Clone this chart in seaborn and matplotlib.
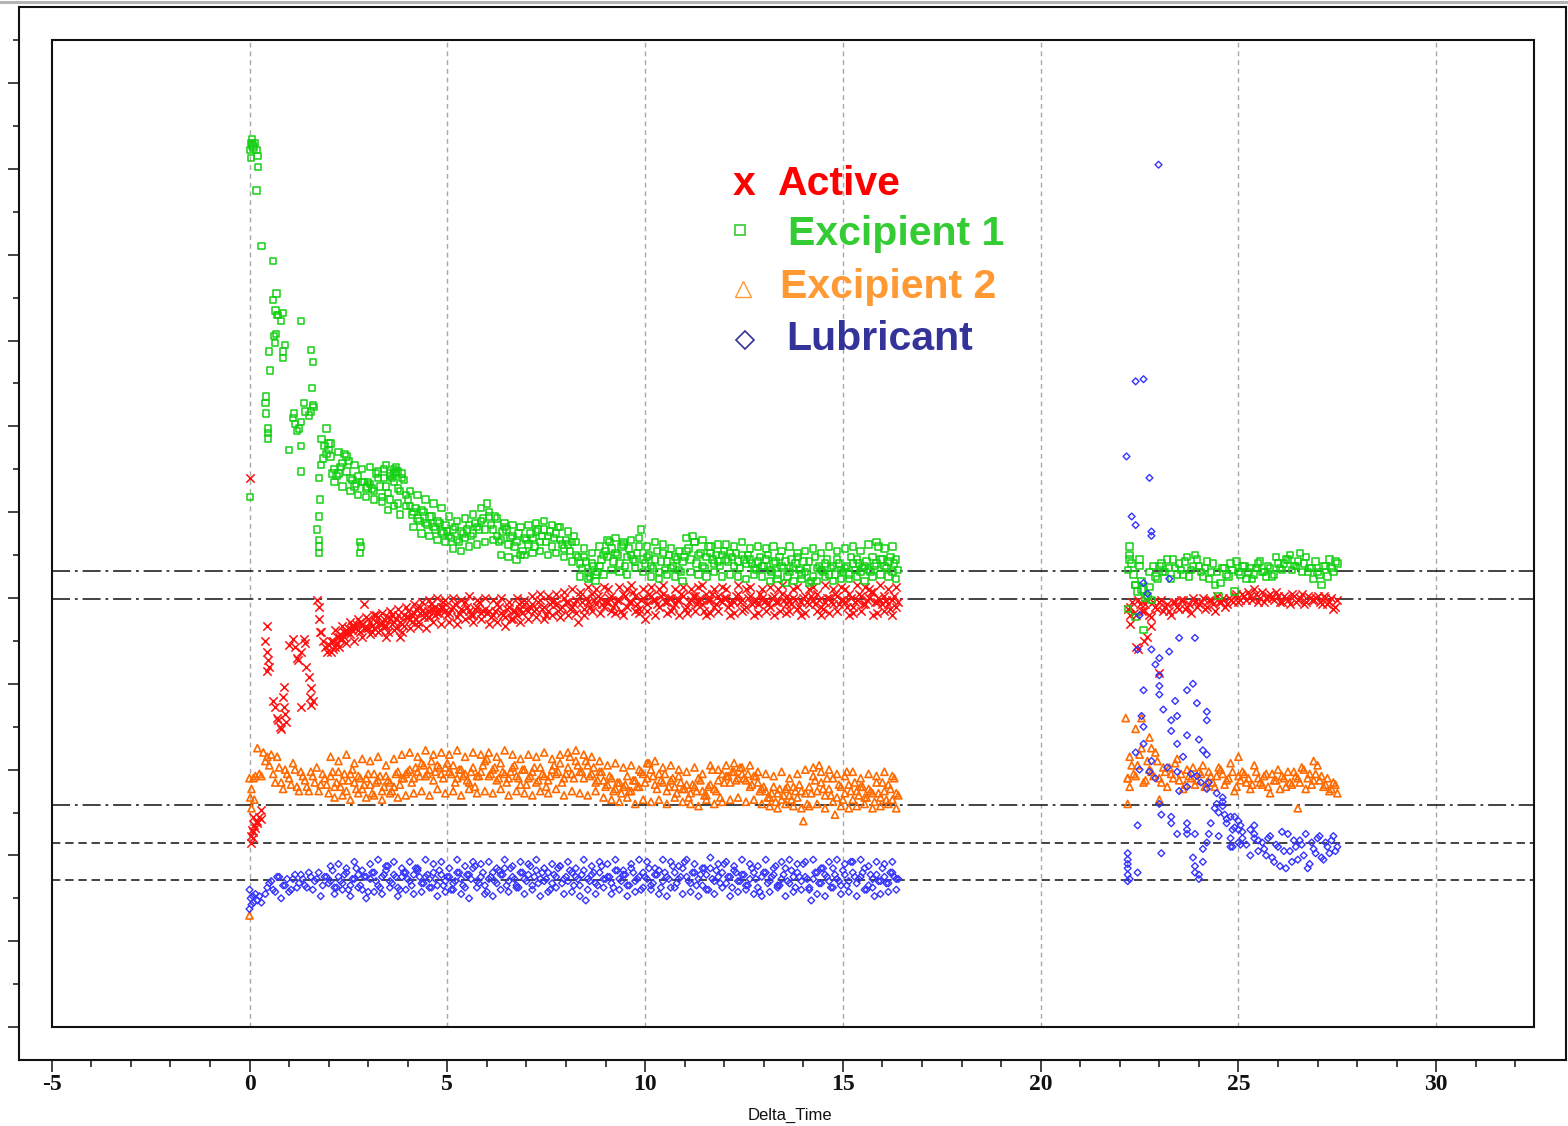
import numpy as np
import pandas as pd
import matplotlib
matplotlib.use("Agg")
import matplotlib.pyplot as plt
from matplotlib.patches import Rectangle
from matplotlib.lines import Line2D
from matplotlib.ticker import FixedLocator, NullFormatter
import seaborn as sns

# ---------------- data ----------------
time_run1 = [0.4, 0.5, 0.6, 0.7, 0.8, 0.9, 1.0, 1.1, 1.2, 1.3,
             1.4, 1.5, 1.6, 1.7, 1.8, 1.9, 2.0, 2.1, 2.2, 2.3,
             2.4, 2.5, 2.6, 2.7, 2.8, 2.9, 3.0, 3.1, 3.2, 3.3,
             3.4, 3.5, 3.6, 3.7, 3.8, 3.9, 4.0, 4.1, 4.2, 4.3,
             4.4, 4.5, 4.6, 4.7, 4.8, 4.9, 5.0, 5.1, 5.2, 5.3,
             5.4, 5.5, 5.6, 5.7, 5.8, 5.9, 6.0, 6.1, 6.2, 6.3,
             6.4, 6.5, 6.6, 6.7, 6.8, 6.9, 7.0, 7.1, 7.2, 7.3,
             7.4, 7.5, 7.6, 7.7, 7.8, 7.9, 8.0, 8.1, 8.2, 8.3,
             8.4, 8.5, 8.6, 8.7, 8.8, 8.9, 9.0, 9.1, 9.2, 9.3,
             9.4, 9.5, 9.6, 9.7, 9.8, 9.9, 10.0, 10.1, 10.2, 10.3,
             10.4, 10.5, 10.6, 10.7, 10.8, 10.9, 11.0, 11.1, 11.2, 11.3,
             11.4, 11.5, 11.6, 11.7, 11.8, 11.9, 12.0, 12.1, 12.2, 12.3,
             12.4, 12.5, 12.6, 12.7, 12.8, 12.9, 13.0, 13.1, 13.2, 13.3,
             13.4, 13.5, 13.6, 13.7, 13.8, 13.9, 14.0, 14.1, 14.2, 14.3,
             14.4, 14.5, 14.6, 14.7, 14.8, 14.9, 15.0, 15.1, 15.2, 15.3,
             15.4, 15.5, 15.6, 15.7, 15.8, 15.9, 16.0, 16.1, 16.2, 16.3,
             16.4]

time_run1b = [2.05, 2.15, 2.25, 2.35, 2.45, 2.55, 2.65, 2.75, 2.85, 2.95,
              3.05, 3.15, 3.25, 3.35, 3.45, 3.55, 3.65, 3.75, 3.85, 3.95,
              4.05, 4.15, 4.25, 4.35, 4.45, 4.55, 4.65, 4.75, 4.85, 4.95,
              5.05, 5.15, 5.25, 5.35, 5.45, 5.55, 5.65, 5.75, 5.85, 5.95,
              6.05, 6.15, 6.25, 6.35, 6.45, 6.55, 6.65, 6.75, 6.85, 6.95,
              7.05, 7.15, 7.25, 7.35, 7.45, 7.55, 7.65, 7.75, 7.85, 7.95,
              8.05, 8.15, 8.25, 8.35, 8.45, 8.55, 8.65, 8.75, 8.85, 8.95,
              9.05, 9.15, 9.25, 9.35, 9.45, 9.55, 9.65, 9.75, 9.85, 9.95,
              10.05, 10.15, 10.25, 10.35, 10.45, 10.55, 10.65, 10.75, 10.85, 10.95,
              11.05, 11.15, 11.25, 11.35, 11.45, 11.55, 11.65, 11.75, 11.85, 11.95,
              12.05, 12.15, 12.25, 12.35, 12.45, 12.55, 12.65, 12.75, 12.85, 12.95,
              13.05, 13.15, 13.25, 13.35, 13.45, 13.55, 13.65, 13.75, 13.85, 13.95,
              14.05, 14.15, 14.25, 14.35, 14.45, 14.55, 14.65, 14.75, 14.85, 14.95,
              15.05, 15.15, 15.25, 15.35, 15.45, 15.55, 15.65, 15.75, 15.85, 15.95,
              16.05, 16.15, 16.25, 16.35]

time_run2 = [22.2, 22.3, 22.4, 22.5, 22.6, 22.7, 22.8, 22.9, 23.0, 23.1,
             23.2, 23.3, 23.4, 23.5, 23.6, 23.7, 23.8, 23.9, 24.0, 24.1,
             24.2, 24.3, 24.4, 24.5, 24.6, 24.7, 24.8, 24.9, 25.0, 25.1,
             25.2, 25.3, 25.4, 25.5, 25.6, 25.7, 25.8, 25.9, 26.0, 26.1,
             26.2, 26.3, 26.4, 26.5, 26.6, 26.7, 26.8, 26.9, 27.0, 27.1,
             27.2, 27.3, 27.4, 27.5]

time_run2b = [22.25, 22.35, 22.45, 22.55, 22.65, 22.75, 22.85, 22.95, 23.05, 23.15,
              23.25, 23.35, 23.45, 23.55, 23.65, 23.75, 23.85, 23.95, 24.05, 24.15,
              24.25, 24.35, 24.45, 24.55, 24.65, 24.75, 24.85, 24.95, 25.05, 25.15,
              25.25, 25.35, 25.45, 25.55, 25.65, 25.75, 25.85, 25.95, 26.05, 26.15,
              26.25, 26.35, 26.45, 26.55, 26.65, 26.75, 26.85, 26.95, 27.05, 27.15,
              27.25, 27.35, 27.45]

active_run1 = [9.0, 8.4, 7.6, 7.2, 6.95, 7.3,
               8.9, 9.05, 8.6, 7.45, 8.95, 8.15, 7.6, 9.95, 9.2, 8.85,
               8.9, 9.0, 8.95, 9.15, 9.1, 9.2, 9.25, 9.3, 9.2, 9.85,
               9.3, 9.35, 9.45, 9.4, 9.5, 9.55, 9.4, 9.3, 9.1, 9.6,
               9.55, 9.45, 9.75, 9.65, 9.55, 9.7, 9.85, 9.6, 9.75, 9.9,
               9.6,
               9.75, 9.85, 9.65, 9.7, 9.8, 9.6, 9.75, 9.9, 9.7, 9.65,
               9.55, 9.7, 9.8, 9.6, 9.75, 9.5, 9.7, 9.85, 9.65, 9.75,
               9.8, 9.7, 9.9, 9.75, 9.6, 9.85, 9.95, 9.7, 9.8, 9.9,
               9.75, 9.85, 9.45, 9.9, 10.0, 9.8, 9.95, 10.05, 9.85, 9.9,
               10.0, 9.8, 9.95, 9.7, 10.05, 9.9, 10.15, 9.85, 9.95, 9.5,
               10.1, 9.95, 9.85, 10.05, 9.9, 10.0, 9.8, 9.95, 10.1, 9.75,
               9.9, 10.05, 9.85, 10.0, 9.7, 9.95, 10.1, 9.85, 9.95, 10.0,
               9.8, 9.95, 10.05, 9.9, 9.75, 10.0, 9.85, 9.95, 10.1, 9.9,
               9.85, 10.0, 9.9, 9.7, 9.95, 10.05, 9.85, 9.95, 9.8, 10.0,
               9.9, 10.05, 9.85, 9.95, 9.75, 10.0, 9.9, 10.1, 9.85, 9.95,
               9.8, 10.0, 9.9, 10.1, 9.85, 9.95, 10.15, 9.9, 10.0, 9.85,
               9.95, 9.75, 10.05, 9.9]

active_run1b = [9.0, 8.85, 9.1, 9.05, 9.2, 9.15, 9.35, 9.25, 9.4, 9.3,
                9.45, 9.3, 9.55, 9.4, 9.35, 9.5, 9.45, 9.6, 9.4, 9.55,
                9.5, 9.65, 9.45, 9.7, 9.6, 9.55, 9.75, 9.65, 9.8, 9.7,
                9.65, 9.8, 9.55, 9.75, 9.9, 9.7, 9.6, 9.8, 9.65, 9.75,
                9.7, 9.6, 9.85, 9.65, 9.55, 9.8, 9.7, 9.6, 9.75, 9.85,
                9.7, 9.85, 9.75, 9.95, 9.8, 9.7, 9.9, 9.85, 9.75, 10.0,
                9.9, 9.8, 9.95, 10.05, 9.75, 9.9, 10.1, 9.85, 10.0, 9.8,
                9.9, 10.05, 9.85, 9.95, 10.1, 9.8, 9.9, 10.05, 9.75, 10.0,
                9.85, 10.05, 9.95, 9.8, 10.1, 9.9, 10.0, 9.85, 9.95, 10.05,
                9.8, 9.95, 10.05, 9.9, 9.85, 10.1, 9.95, 9.8, 10.05, 9.9,
                10.0, 9.85, 9.9, 10.1, 9.95, 9.8, 10.05, 9.9, 9.85, 10.0,
                9.95, 9.8, 10.05, 9.9, 10.1, 9.85, 9.95, 10.0, 9.75, 9.9,
                10.05, 9.85, 9.95, 10.1, 9.8, 9.9, 10.0, 9.85, 10.05, 9.95,
                9.9, 10.1, 9.8, 9.95, 10.05, 9.85, 10.0, 10.15, 9.9, 9.95,
                10.05, 9.85, 9.95, 9.8]

active_run1c = [8.75, 9.25, 8.85, 9.35, 8.95, 9.45, 9.0, 9.5, 9.1, 9.55,
                9.15, 9.6, 9.2, 9.65, 9.1, 9.7, 9.25, 9.75, 9.2, 9.8,
                9.3, 9.85, 9.35, 9.9, 9.3, 9.95, 9.45, 10.0, 9.4, 9.95,
                9.45, 10.0, 9.4, 9.95, 9.5, 10.05, 9.45, 9.95, 9.5, 10.0,
                9.4, 9.95, 9.45, 10.0, 9.35, 9.9, 9.5, 10.0, 9.45, 9.95,
                9.5, 10.05, 9.55, 10.1, 9.5, 10.05, 9.6, 10.1, 9.55, 10.15,
                9.6, 10.2, 9.65, 10.15, 9.6, 10.25, 9.7, 10.2, 9.65, 10.25,
                10.2, 9.7, 9.65, 10.25, 9.6, 10.2, 10.3, 9.7, 9.65, 10.2,
                9.7, 10.25, 9.6, 10.2, 10.3, 9.65, 9.7, 10.2, 9.6, 10.25,
                9.65, 10.2, 9.7, 10.25, 10.3, 9.6, 9.65, 10.2, 9.7, 10.25,
                10.2, 9.6, 9.65, 10.3, 9.7, 10.2, 10.25, 9.6, 9.65, 10.2,
                9.7, 10.25, 9.6, 10.2, 10.3, 9.65, 9.7, 10.2, 10.25, 9.6,
                9.65, 10.2, 10.25, 9.7, 9.6, 10.3, 9.65, 10.2, 9.7, 10.25,
                10.2, 9.6, 9.65, 10.3, 9.7, 10.25, 10.2, 9.6, 9.65, 10.3,
                9.7, 10.2, 9.6, 10.25]

active_run2 = [9.75, 9.9, 9.6, 9.85, 9.7, 9.95, 9.55, 9.8, 9.9, 9.7,
               9.85, 9.6, 9.9, 9.75, 9.95, 9.8, 9.65, 9.9, 9.85, 10.0,
               9.8, 9.95, 9.7, 9.9, 10.0, 9.85, 9.95, 10.05, 9.9, 10.1,
               9.95, 10.05, 10.2, 9.9, 10.15, 10.0, 10.1, 9.95, 10.05, 9.9,
               10.0, 9.85, 10.05, 9.95, 10.1, 9.9, 10.0, 9.95, 10.05, 9.85,
               10.0, 9.9, 9.75, 9.95]

active_run2b = [9.8, 9.65, 9.95, 9.7, 9.85, 9.6, 9.9, 9.75, 9.95, 9.8,
                9.7, 9.9, 9.8, 9.95, 9.75, 9.85, 10.0, 9.8, 9.9, 9.75,
                9.95, 9.85, 10.05, 9.9, 9.8, 10.0, 9.9, 10.1, 9.95, 10.05,
                10.15, 9.95, 10.1, 10.0, 9.9, 10.05, 10.0, 10.15, 9.9, 10.05,
                9.95, 10.1, 9.9, 10.0, 9.85, 10.05, 9.95, 10.0, 9.9, 10.05,
                9.85, 10.0, 9.8]

active_extra = [(0.02, 12.8), (0.03, 4.45), (0.06, 4.6), (0.08, 4.4), (0.1, 4.55),
                (0.12, 4.7), (0.15, 4.65), (0.18, 4.8), (0.2, 4.75), (0.25, 4.9),
                (0.3, 4.85), (0.1, 4.9), (0.28, 5.05), (0.05, 4.3),
                (0.45, 9.35), (0.44, 8.75), (0.47, 8.55), (0.45, 8.3),
                (0.65, 7.45), (0.72, 7.15), (0.78, 7.0), (0.86, 7.92), (0.85, 7.7),
                (0.88, 7.45), (0.92, 7.1),
                (1.15, 8.85), (1.22, 8.55), (1.3, 8.75), (1.38, 9.05), (1.42, 8.4),
                (1.55, 7.9), (1.53, 7.7), (1.55, 7.5),
                (1.75, 9.8), (1.76, 9.5), (1.78, 9.2), (1.85, 9.0), (1.95, 8.75),
                (2.1, 8.8), (2.2, 9.1), (2.3, 9.05), (2.4, 9.2), (2.5, 9.3),
                (2.6, 9.35), (2.7, 9.4), (2.8, 9.45), (2.9, 9.3), (3.0, 9.5),
                (3.1, 9.2), (3.2, 9.6), (3.3, 9.25), (3.4, 9.35), (3.5, 9.2),
                (3.6, 9.6), (3.7, 9.5), (3.8, 9.45), (3.9, 9.35), (4.0, 9.7),
                (4.1, 9.6), (4.2, 9.5), (4.3, 9.8), (4.4, 9.65), (4.5, 9.55),
                (4.6, 9.75), (4.7, 9.8), (4.8, 9.65), (4.9, 9.8),
                (22.25, 9.4), (22.4, 8.85), (22.8, 9.35), (22.6, 9.0), (22.7, 9.1),
                (23.0, 8.25), (22.45, 8.8), (22.25, 9.6)]

excip1_run1 = [14.55, 15.75, 16.95, 16.6, 16.45, 15.9,
               13.45, 14.2, 13.9, 16.45, 14.35, 14.25, 15.5, 11.6, 13.1, 13.55,
               13.45, 12.9, 12.85, 13.05, 13.35, 13.2, 12.75, 12.65, 11.3, 12.7,
               12.7, 12.55, 12.9, 12.6, 13.0, 12.45, 12.8, 12.95, 12.5, 12.75,
               12.3, 11.95, 12.1, 11.8, 12.0, 11.7, 11.9, 11.6, 11.75, 11.5,
               11.55, 11.4, 11.65, 11.3, 11.5, 11.6, 11.45, 11.75, 11.6, 11.85,
               12.2, 11.7, 11.9, 11.3, 11.55, 11.6, 11.4, 11.2, 11.5, 11.1,
               11.35, 11.5, 11.2, 11.6, 11.45, 11.3, 11.55, 11.4, 11.65, 11.25,
               11.35, 11.1, 11.45, 10.95, 10.7, 10.85, 10.5, 10.75, 10.6, 10.9,
               11.1, 11.3, 10.85, 11.0, 11.2, 10.75, 11.15, 10.9, 11.05, 11.6,
               10.8, 11.0, 10.7, 11.1, 10.85, 10.65, 11.0, 10.75, 10.9, 10.6,
               10.95, 11.15, 11.45, 10.8, 11.05, 10.7, 11.2, 10.9, 11.0, 10.75,
               11.1, 10.85, 10.95, 11.05, 10.7, 10.9, 11.0, 10.8, 10.65, 10.95,
               10.75, 11.0, 10.6, 10.85, 10.95, 10.7, 10.5, 10.9, 10.8, 10.65,
               10.85, 10.7, 10.4, 10.95, 10.75, 10.6, 10.9, 10.7, 10.55, 10.8,
               10.6, 10.75, 10.95, 10.65, 10.8, 10.7, 10.85, 10.6, 10.75, 11.2,
               10.9, 10.7, 10.95, 10.8, 10.65]

excip1_run1b = [13.3, 13.0, 12.9, 13.15, 12.95, 12.8, 12.6, 12.85, 12.7, 12.55,
                12.65, 12.5, 12.8, 12.35, 12.6, 12.9, 12.7, 12.55, 12.8, 12.4,
                12.15, 12.0, 11.85, 12.05, 11.75, 11.9, 11.65, 11.8, 11.55, 11.7,
                11.45, 11.6, 11.35, 11.55, 11.4, 11.7, 11.5, 11.65, 11.8, 11.6,
                11.9, 11.6, 11.45, 11.35, 11.65, 11.25, 11.45, 11.3, 11.0, 11.4,
                11.25, 11.4, 11.55, 11.3, 11.6, 11.45, 11.2, 11.5, 11.35, 11.15,
                11.25, 11.3, 11.0, 10.8, 10.95, 10.6, 10.8, 10.55, 10.75, 11.0,
                10.95, 11.15, 11.05, 10.8, 11.25, 10.95, 11.0, 10.85, 11.2, 10.9,
                10.95, 10.75, 10.9, 10.6, 11.05, 10.85, 10.7, 10.95, 10.65, 10.85,
                11.1, 10.9, 11.3, 11.0, 10.75, 10.95, 11.05, 10.8, 10.85, 11.0,
                10.9, 11.05, 10.75, 10.85, 11.0, 10.8, 10.9, 10.7, 10.85, 10.75,
                10.9, 10.65, 10.8, 10.55, 10.75, 10.85, 10.6, 10.7, 10.95, 10.55,
                10.6, 10.85, 10.5, 10.7, 10.65, 10.8, 10.55, 10.75, 10.9, 10.65,
                10.7, 10.55, 10.8, 10.9, 10.6, 10.75, 10.65, 10.95, 10.8, 10.9,
                10.75, 10.85, 10.6, 10.9]

excip1_run1c = [13.6, 12.7, 13.4, 12.6, 13.3, 12.5, 13.1, 12.4, 13.0, 12.35,
                13.05, 12.3, 12.95, 12.25, 13.1, 12.3, 13.0, 12.2, 12.9, 12.15,
                12.5, 11.65, 12.4, 11.5, 12.3, 11.45, 12.2, 11.35, 12.1, 11.3,
                11.9, 11.15, 11.8, 11.1, 11.85, 11.2, 11.95, 11.25, 12.1, 11.3,
                12.0, 11.35, 11.85, 11.0, 11.75, 10.95, 11.7, 10.9, 11.65, 11.0,
                11.7, 11.05, 11.75, 11.1, 11.8, 11.0, 11.7, 11.05, 11.65, 10.95,
                11.55, 10.85, 11.3, 10.5, 11.15, 10.45, 11.05, 10.4, 11.2, 10.55,
                11.35, 10.65, 11.4, 10.6, 11.3, 10.55, 11.35, 10.7, 11.4, 10.6,
                11.2, 10.5, 11.3, 10.45, 11.25, 10.55, 11.15, 10.5, 11.1, 10.4,
                11.4, 10.6, 11.3, 10.55, 11.35, 10.5, 11.2, 10.6, 11.25, 10.5,
                11.25, 10.55, 11.2, 10.5, 11.3, 10.45, 11.15, 10.55, 11.2, 10.5,
                11.15, 10.4, 11.2, 10.45, 11.1, 10.35, 11.2, 10.4, 11.05, 10.45,
                11.1, 10.35, 11.15, 10.4, 11.05, 10.5, 11.2, 10.4, 11.1, 10.45,
                11.15, 10.45, 11.2, 10.5, 11.1, 10.4, 11.25, 10.5, 11.3, 10.55,
                11.15, 10.5, 11.2, 10.45]

excip1_run2 = [10.65, 10.8, 10.3, 10.9, 10.2, 10.05, 9.95,
               10.5, 10.75, 10.6, 10.9, 10.45, 10.7, 10.8, 10.55, 10.95, 10.65,
               11.0, 10.75, 10.5, 10.85, 10.6, 10.3, 10.05, 10.7, 10.55, 10.8,
               10.15, 10.6, 10.75, 10.45, 10.7, 10.55, 10.8, 10.6, 10.5, 10.7,
               10.55, 10.8, 10.65, 10.9, 11.0, 10.75, 10.85, 10.6, 10.95, 10.7,
               10.45, 10.6, 10.3, 10.75, 10.9, 10.6, 10.8]

excip1_run2b = [10.9, 10.55, 10.15, 10.4, 10.0, 10.6, 10.75, 10.45, 10.8, 10.6,
                10.7, 10.9, 10.55, 10.65, 10.85, 10.5, 10.75, 10.9, 10.6, 10.7,
                10.45, 10.8, 10.6, 10.35, 10.7, 10.5, 10.65, 10.85, 10.55, 10.75,
                10.6, 10.45, 10.7, 10.85, 10.6, 10.75, 10.5, 10.95, 10.7, 10.8,
                10.9, 10.65, 10.75, 11.05, 10.8, 10.6, 10.7, 10.85, 10.55, 10.75,
                10.5, 10.7, 10.85]

excip1_extra = [(0.02, 20.45), (0.04, 20.6), (0.06, 20.7), (0.08, 20.55), (0.1, 20.5),
                (0.14, 20.6), (0.18, 20.45), (0.2, 20.3), (0.04, 20.25), (0.22, 20.05),
                (0.18, 19.5), (0.02, 12.35), (0.3, 18.2), (0.6, 17.85),
                (0.68, 17.1), (0.66, 16.7), (0.72, 16.6), (0.85, 16.65),
                (0.62, 16.1), (0.67, 16.15), (0.64, 15.95), (0.85, 15.75), (0.85, 15.6),
                (0.52, 15.3), (1.55, 15.78), (1.58, 14.9), (1.6, 14.5), (1.55, 14.35),
                (0.42, 14.7), (0.42, 14.3), (0.47, 13.95), (0.47, 13.85), (0.47, 13.72),
                (1.15, 14.05), (1.3, 14.1), (1.25, 13.95), (1.38, 14.55), (1.12, 14.3),
                (1.3, 13.55), (1.3, 12.95), (1.62, 14.45),
                (1.82, 13.7), (1.95, 13.35), (1.85, 13.25), (1.95, 13.95), (2.0, 13.6),
                (1.75, 12.8), (1.78, 12.3), (1.75, 11.9), (1.75, 11.35), (1.75, 11.2),
                (1.75, 11.05), (2.82, 11.2), (2.8, 11.05), (2.98, 12.6),
                (3.55, 12.85), (3.65, 12.9), (3.75, 12.95), (3.5, 12.05), (3.65, 12.15),
                (3.8, 11.95), (3.4, 12.8), (3.7, 13.05),
                (22.25, 11.2), (22.25, 11.0), (22.5, 10.75), (22.4, 10.3), (22.55, 10.2),
                (22.2, 9.75), (22.4, 9.55), (22.6, 9.25), (22.75, 10.25)]

excip2_run1 = [6.2,
               6.1, 5.9, 6.3, 5.7, 6.0, 5.8, 6.15, 5.6, 5.95, 5.75,
               5.5, 5.85, 6.05, 5.65, 5.8, 5.45, 5.95, 5.7, 5.6, 5.9,
               5.75, 6.0, 5.55, 5.8, 5.65, 5.9, 5.45, 5.7, 5.85, 5.6,
               5.75, 5.5, 5.9, 5.65, 5.8, 5.95, 5.7, 6.05, 5.85, 6.1,
               5.9, 6.2, 5.95, 6.05, 5.8, 6.15, 5.9, 5.7, 6.0, 5.85,
               5.75, 5.95, 5.6, 5.85, 6.1, 6.25, 5.9, 6.05, 5.8, 5.95,
               5.7, 5.95, 6.1, 5.8, 6.0, 5.65, 5.85, 6.05, 5.75, 5.9,
               5.6, 5.85, 6.1, 5.95, 5.7, 5.9, 6.3, 5.8, 6.1, 5.95,
               6.2, 5.85, 6.05, 5.75, 5.95, 5.6, 5.85, 5.5, 5.7, 5.45,
               5.65, 5.5, 5.75, 5.6, 5.95, 5.7, 6.15, 5.85, 5.55, 5.75,
               5.9, 5.6, 5.8, 5.45, 5.7, 5.55, 5.35, 5.65, 5.5, 5.75,
               5.4, 5.6, 6.0, 5.5, 5.35, 5.7, 5.85, 5.95, 5.75, 6.05,
               5.8, 5.9, 5.65, 5.85, 5.5, 5.6, 5.35, 5.45, 5.25, 5.55,
               5.4, 5.6, 5.3, 5.5, 5.65, 4.8, 5.2, 5.45, 5.75, 6.1,
               5.55, 5.8, 5.4, 4.95, 5.65, 5.3, 5.95, 5.5, 5.7, 5.4,
               5.6, 5.35, 5.5, 5.25, 5.45, 5.7, 5.3, 5.55, 5.8, 5.4]

excip2_run1b = [5.85, 5.6, 5.95, 5.75, 5.5, 5.9, 5.7, 5.85, 5.55, 5.8,
                5.65, 5.9, 5.75, 5.5, 5.85, 5.7, 5.6, 5.95, 5.8, 5.9,
                6.0, 5.8, 5.95, 6.15, 5.85, 6.0, 5.75, 6.1, 5.9, 6.05,
                5.95, 6.1, 5.8, 6.0, 5.9, 5.7, 6.05, 5.85, 5.95, 6.2,
                5.85, 6.0, 5.75, 6.15, 5.9, 5.8, 6.05, 5.85, 5.65, 6.0,
                5.8, 5.95, 5.7, 6.05, 5.85, 5.75, 6.0, 5.9, 6.15, 5.8,
                6.05, 5.9, 6.2, 5.95, 5.8, 6.1, 5.9, 5.7, 5.95, 5.75,
                5.65, 5.8, 5.55, 5.7, 5.6, 5.85, 5.5, 5.75, 5.6, 5.9,
                5.8, 6.0, 5.65, 5.9, 5.7, 5.5, 5.75, 5.6, 5.85, 5.55,
                5.65, 5.45, 5.6, 5.8, 5.5, 5.4, 5.65, 5.55, 5.75, 5.9,
                5.85, 5.7, 5.95, 5.8, 5.9, 5.75, 5.6, 5.85, 5.7, 5.55,
                5.5, 5.35, 5.6, 5.45, 5.3, 5.55, 5.4, 5.6, 5.35, 5.5,
                5.45, 5.6, 5.85, 5.5, 5.7, 5.4, 5.55, 5.8, 5.35, 5.6,
                5.45, 5.65, 5.3, 5.5, 5.6, 5.35, 5.55, 5.45, 5.7, 5.35,
                5.5, 5.65, 5.3, 5.45]

excip2_run1c = [6.3, 5.35, 6.2, 5.4, 6.35, 5.3, 6.15, 5.45, 6.25, 5.35,
                6.2, 5.4, 6.3, 5.3, 6.1, 5.45, 6.25, 5.35, 6.35, 5.4,
                6.4, 5.45, 6.3, 5.5, 6.45, 5.4, 6.35, 5.55, 6.4, 5.45,
                6.35, 5.5, 6.45, 5.4, 6.3, 5.55, 6.4, 5.45, 6.35, 5.5,
                6.4, 5.45, 6.3, 5.55, 6.45, 5.4, 6.35, 5.5, 6.25, 5.45,
                6.35, 5.4, 6.3, 5.5, 6.4, 5.45, 6.25, 5.55, 6.35, 5.4,
                6.4, 5.5, 6.45, 5.45, 6.35, 5.4, 6.3, 5.5, 6.2, 5.35,
                6.1, 5.3, 6.15, 5.25, 6.05, 5.35, 6.1, 5.2, 6.0, 5.3,
                6.15, 5.25, 6.2, 5.3, 6.05, 5.2, 6.1, 5.35, 6.0, 5.25,
                5.95, 5.2, 6.05, 5.15, 5.9, 5.3, 6.1, 5.2, 6.0, 5.25,
                6.1, 5.3, 6.15, 5.35, 6.05, 5.25, 6.1, 5.3, 5.95, 5.2,
                5.9, 5.15, 5.85, 5.1, 5.95, 5.2, 5.8, 5.15, 5.9, 5.1,
                6.0, 5.15, 6.05, 5.2, 5.95, 5.1, 6.0, 5.25, 5.9, 5.15,
                5.85, 5.1, 5.95, 5.15, 5.8, 5.2, 5.9, 5.1, 5.85, 5.15,
                5.95, 5.2, 5.85, 5.1]

excip2_run2 = [5.8,
               6.1, 5.85, 6.35, 5.7, 6.2, 5.95, 6.4, 5.8, 6.05, 5.6,
               5.9, 6.15, 5.75, 5.55, 6.0, 5.8, 5.65, 5.95, 6.1, 5.7,
               5.85, 5.6, 6.05, 5.9, 5.75, 6.15, 5.5, 5.85, 5.95, 5.7,
               5.55, 6.1, 5.8, 5.65, 5.9, 5.45, 5.75, 6.0, 5.85, 5.6,
               5.7, 5.95, 5.8, 6.05, 5.55, 5.9, 5.75, 6.1, 5.85, 5.65,
               5.5, 5.7, 5.45]

excip2_run2b = [6.3, 5.9, 6.1, 6.5, 5.75, 6.0, 5.85, 6.2, 5.7, 5.95,
                6.05, 5.8, 6.25, 5.9, 5.65, 5.85, 6.05, 5.75, 5.9, 5.6,
                5.95, 5.7, 5.85, 6.0, 5.65, 5.8, 5.95, 5.6, 5.75, 5.9,
                5.8, 5.65, 5.95, 5.7, 5.85, 5.6, 5.9, 5.75, 5.55, 5.8,
                5.95, 5.65, 5.85, 5.7, 6.0, 5.8, 5.65, 5.9, 5.75, 5.6,
                5.8, 5.55, 5.65]

excip2_extra = [(0.0, 5.8), (0.05, 5.55), (0.1, 5.8), (0.12, 5.3), (0.15, 5.85),
                (0.2, 6.5), (0.25, 5.9), (0.3, 5.85), (0.35, 6.4), (0.0, 2.6),
                (0.05, 5.1), (0.45, 6.3), (0.55, 6.35), (0.02, 5.35),
                (0.65, 5.7), (0.75, 6.05), (0.85, 5.55), (0.95, 5.9), (1.05, 5.65),
                (1.15, 6.0), (1.25, 5.5), (1.35, 5.85), (1.45, 5.6), (1.55, 5.95),
                (1.65, 5.7), (1.75, 5.5), (1.85, 5.9), (1.95, 5.65),
                (22.15, 7.2), (22.4, 6.95), (22.55, 7.2), (22.75, 6.75), (22.8, 6.5),
                (22.2, 5.8), (22.25, 5.6), (22.2, 5.2), (23.0, 5.3), (25.0, 6.3),
                (26.5, 5.1), (26.9, 6.2)]

lubric_run1 = [3.1, 3.35, 3.2, 3.5, 3.0, 3.3, 3.15, 3.45, 3.25, 3.55,
               3.3, 3.6, 3.2, 3.45, 3.05, 3.5, 3.35, 3.65, 3.25, 3.4,
               3.55, 3.2, 3.45, 3.7, 3.3, 3.5, 3.15, 3.6, 3.4, 3.25,
               3.55, 3.75, 3.35, 3.5, 3.2, 3.6, 3.45, 3.3, 3.7, 3.5,
               3.35, 3.55, 3.25, 3.45, 3.65, 3.3, 3.5, 3.2, 3.4, 3.6,
               3.3, 3.55, 3.45, 3.75, 3.35, 3.6, 3.15, 3.5, 3.4, 3.65,
               3.55, 3.3, 3.7, 3.45, 3.25, 3.6, 3.4, 3.75, 3.5, 3.35,
               3.6, 3.45, 3.2, 3.55, 3.7, 3.35, 3.5, 3.65, 3.3, 3.45,
               3.55, 2.95, 3.4, 3.6, 3.3, 3.75, 3.45, 3.5, 3.25, 3.65,
               3.4, 3.55, 3.3, 3.6, 3.45, 3.2, 3.5, 3.7, 3.35, 3.55,
               3.25, 3.6, 3.45, 3.75, 3.35, 3.5, 3.85, 3.4, 3.6, 3.3,
               3.55, 3.7, 3.2, 3.45, 3.65, 3.35, 3.8, 3.5, 3.25, 3.6,
               3.4, 3.55, 3.3, 3.7, 3.45, 3.15, 3.6, 3.35, 3.5, 3.75,
               3.3, 3.55, 3.4, 3.65, 3.25, 3.5, 3.8, 3.45, 2.95, 3.6,
               3.35, 3.7, 3.5, 3.25, 3.55, 3.4, 3.65, 3.3, 3.85, 3.5,
               3.45, 3.6, 3.2, 3.55, 3.05, 3.4, 3.7, 3.35, 3.6, 3.5,
               3.45]

lubric_run1b = [3.4, 3.25, 3.5, 3.35, 3.6, 3.3, 3.45, 3.55, 3.2, 3.5,
                3.45, 3.6, 3.3, 3.5, 3.65, 3.4, 3.55, 3.25, 3.5, 3.6,
                3.4, 3.55, 3.7, 3.35, 3.5, 3.45, 3.6, 3.3, 3.55, 3.4,
                3.5, 3.35, 3.6, 3.45, 3.25, 3.55, 3.7, 3.4, 3.5, 3.3,
                3.45, 3.6, 3.35, 3.55, 3.7, 3.4, 3.5, 3.3, 3.6, 3.45,
                3.55, 3.3, 3.65, 3.45, 3.4, 3.6, 3.35, 3.5, 3.75, 3.45,
                3.4, 3.6, 3.5, 3.3, 3.65, 3.45, 3.55, 3.35, 3.6, 3.45,
                3.5, 3.35, 3.65, 3.45, 3.55, 3.3, 3.7, 3.4, 3.5, 3.6,
                3.45, 3.3, 3.55, 3.65, 3.4, 3.5, 3.25, 3.6, 3.45, 3.7,
                3.5, 3.35, 3.6, 3.45, 3.3, 3.55, 3.7, 3.4, 3.5, 3.6,
                3.35, 3.5, 3.65, 3.4, 3.55, 3.3, 3.45, 3.6, 3.25, 3.5,
                3.6, 3.4, 3.55, 3.3, 3.45, 3.7, 3.35, 3.5, 3.6, 3.4,
                3.5, 3.25, 3.45, 3.6, 3.35, 3.55, 3.4, 3.7, 3.45, 3.3,
                3.55, 3.4, 3.6, 3.35, 3.5, 3.7, 3.3, 3.45, 3.55, 3.4,
                3.5, 3.35, 3.6, 3.45]

lubric_run1c = [3.75, 3.1, 3.8, 3.2, 3.7, 3.05, 3.85, 3.25, 3.65, 3.0,
                3.8, 3.15, 3.9, 3.1, 3.75, 3.25, 3.85, 3.05, 3.7, 3.2,
                3.85, 3.1, 3.65, 3.15, 3.9, 3.25, 3.8, 3.05, 3.85, 3.15,
                3.7, 3.2, 3.9, 3.1, 3.75, 3.0, 3.85, 3.25, 3.8, 3.1,
                3.85, 3.05, 3.7, 3.2, 3.9, 3.15, 3.75, 3.25, 3.85, 3.1,
                3.8, 3.2, 3.9, 3.05, 3.7, 3.15, 3.8, 3.25, 3.75, 3.1,
                3.85, 3.15, 3.7, 3.05, 3.9, 3.2, 3.75, 3.1, 3.85, 3.25,
                3.8, 3.1, 3.9, 3.2, 3.65, 3.05, 3.8, 3.15, 3.9, 3.25,
                3.85, 3.2, 3.7, 3.1, 3.9, 3.05, 3.85, 3.25, 3.75, 3.1,
                3.9, 3.15, 3.8, 3.05, 3.7, 3.2, 3.95, 3.1, 3.8, 3.25,
                3.85, 3.05, 3.75, 3.15, 3.9, 3.2, 3.8, 3.1, 3.75, 3.05,
                3.9, 3.15, 3.7, 3.25, 3.85, 3.05, 3.9, 3.15, 3.8, 3.2,
                3.85, 3.2, 3.9, 3.1, 3.7, 3.05, 3.85, 3.25, 3.9, 3.1,
                3.8, 3.15, 3.85, 3.05, 3.9, 3.2, 3.75, 3.25, 3.85, 3.1,
                3.8, 3.15, 3.85, 3.2]

lubric_run2 = [3.8, 11.9, 6.4, 9.6, 7.0, 10.1, 6.2, 8.45,
               5.2, 7.4, 6.05, 4.9, 7.6, 5.5, 6.3, 4.6, 5.9, 3.6,
               6.7, 4.15, 5.55, 4.75, 5.1, 4.45, 5.25, 4.85, 4.4, 4.65,
               4.3, 4.55, 4.25, 4.0, 4.4, 4.1, 4.3, 4.0, 4.45, 3.85,
               4.2, 4.55, 3.7, 4.1, 4.35, 3.9, 4.25, 4.5, 3.8, 4.15,
               4.4, 3.95, 4.3, 4.05, 4.45, 4.2]

lubric_extra = [(0.0, 2.75), (0.03, 3.0), (0.05, 2.85), (0.08, 3.05), (0.1, 2.9),
                (0.15, 3.1), (0.2, 2.95), (0.25, 3.05), (0.3, 2.9), (0.0, 3.2),
                (0.45, 3.25), (0.55, 3.4), (0.65, 3.15), (0.75, 3.5), (0.85, 3.3),
                (0.95, 3.45), (1.05, 3.2), (1.15, 3.55), (1.25, 3.35), (1.35, 3.45),
                (1.45, 3.25), (1.55, 3.5), (1.65, 3.4), (1.75, 3.6), (1.85, 3.3),
                (1.95, 3.5),
                (22.98, 20.1), (22.4, 15.05), (22.6, 15.1), (22.17, 13.3), (22.75, 12.8),
                (22.4, 11.7), (22.8, 11.55), (22.8, 11.45), (22.6, 10.35), (23.25, 10.45),
                (23.5, 9.07), (23.9, 9.07), (22.8, 8.8), (23.25, 8.75), (23.0, 8.6),
                (22.45, 8.8), (23.0, 8.2), (22.6, 7.85), (23.0, 7.95), (23.0, 7.75),
                (23.85, 8.0), (23.7, 7.85), (23.95, 7.55), (24.2, 7.35), (24.2, 7.15),
                (22.55, 7.25), (23.3, 7.15), (23.3, 6.9), (23.45, 7.25), (23.7, 6.8),
                (22.6, 6.6), (23.45, 6.6), (24.1, 6.45), (24.2, 6.35), (22.5, 6.0),
                (22.75, 5.95), (22.9, 5.8), (23.45, 5.95), (23.7, 5.6), (24.05, 5.7),
                (23.95, 5.85), (24.25, 5.7), (24.45, 5.45), (24.45, 5.2), (24.6, 5.35),
                (24.6, 5.15), (24.5, 5.0), (24.65, 4.95), (24.7, 4.75), (24.8, 4.9),
                (24.85, 4.6), (25.0, 4.8), (25.05, 4.7), (23.05, 4.95), (22.45, 4.7),
                (23.3, 4.75), (23.7, 4.75), (23.45, 4.5), (23.7, 4.5), (23.9, 4.5),
                (24.2, 4.3), (24.25, 4.5), (23.05, 4.05), (24.9, 4.9), (25.0, 4.6),
                (25.1, 4.4), (25.05, 4.25), (24.85, 4.2), (25.3, 4.6), (25.4, 4.5),
                (25.5, 4.35), (25.4, 4.7), (22.2, 4.05), (22.2, 3.9), (22.2, 3.7),
                (22.2, 3.55), (22.25, 3.45), (22.2, 3.4), (22.45, 3.6), (23.85, 3.95),
                (23.9, 3.75), (24.0, 3.55), (24.1, 3.85), (24.0, 3.45), (24.8, 4.2),
                (25.65, 4.15), (25.75, 4.4), (25.85, 3.95), (25.95, 4.25), (26.05, 3.75),
                (26.15, 4.1), (26.25, 4.5), (26.35, 3.85), (26.45, 4.2), (26.55, 4.35),
                (26.65, 4.0), (26.75, 3.7), (26.85, 4.3), (26.95, 4.05), (27.05, 4.45),
                (27.15, 3.9), (27.25, 4.2), (27.35, 4.35), (27.45, 4.1)]

reference_levels = [10.63, 9.98, 5.17, 4.29, 3.43]
reference_styles = ["dashdot", "dashdot", "dashdot", "dashed", "dashed"]
x_major_ticks = [-5, 0, 5, 10, 15, 20, 25, 30]
legend_labels = ["Active", "Excipient 1", "Excipient 2", "Lubricant"]


def build(run1, run1b, run1c, run2, run2b, extra):
    t = []
    v = []
    for times, vals in ((time_run1, run1), (time_run1b, run1b), (time_run1b, run1c),
                        (time_run2, run2), (time_run2b, run2b)):
        for a, b in zip(times, vals):
            t.append(a)
            v.append(b)
    for a, b in extra:
        t.append(a)
        v.append(b)
    return pd.DataFrame({"Delta_Time": t, "value": v})


df_active = build(active_run1, active_run1b, active_run1c, active_run2, active_run2b, active_extra)
df_exc1 = build(excip1_run1, excip1_run1b, excip1_run1c, excip1_run2, excip1_run2b, excip1_extra)
df_exc2 = build(excip2_run1, excip2_run1b, excip2_run1c, excip2_run2, excip2_run2b, excip2_extra)
df_lub = build(lubric_run1, lubric_run1b, lubric_run1c, lubric_run2, [], lubric_extra)

# ---------------- figure ----------------
sns.set_style("white")
plt.rcParams["font.family"] = ["Liberation Sans", "DejaVu Sans"]
plt.rcParams["lines.scale_dashes"] = False

W, H = 1568, 1126
fig = plt.figure(figsize=(W / 100, H / 100), dpi=100)
fig.patch.set_facecolor("white")


def fx(px):
    return px / W


def fy(py):
    return 1 - py / H


ax = fig.add_axes([fx(19), fy(1060), fx(1566) - fx(19), fy(7) - fy(1060)])
ax.set_facecolor("white")
ax.set_xlim(-5.827, 33.28)
ax.set_ylim(-0.769, 23.776)

inner_left, inner_right, inner_bottom, inner_top = -5.0, 32.47, 0.0, 23.0

# vertical grid lines
ax.vlines([0, 5, 10, 15, 20, 25, 30], inner_bottom, inner_top, colors="#a8a8a8",
          linestyles=[(0, (3.5, 2.8))], linewidth=1.0, zorder=1)

# horizontal reference lines
for lvl, st in zip(reference_levels, reference_styles):
    if st == "dashdot":
        ls = (0, (13, 3.5, 2, 3.5))
    else:
        ls = (0, (6, 3.5))
    ax.plot([inner_left, inner_right], [lvl, lvl], color="#222222", linewidth=1.2,
            linestyle=ls, zorder=2)

# data
sns.scatterplot(data=df_active, x="Delta_Time", y="value", ax=ax, marker="x",
                s=36, color="#ff1010", linewidth=1.1, legend=False, zorder=3)
sns.scatterplot(data=df_exc2, x="Delta_Time", y="value", ax=ax, marker="^",
                s=26, color="#ff6a00", facecolor="none", edgecolor="#ff6a00",
                linewidth=1.2, legend=False, zorder=4)
sns.scatterplot(data=df_exc1, x="Delta_Time", y="value", ax=ax, marker="s",
                s=21, color="#14d014", facecolor="none", edgecolor="#14d014",
                linewidth=1.1, legend=False, zorder=5)
sns.scatterplot(data=df_lub, x="Delta_Time", y="value", ax=ax, marker="D",
                s=12, color="#3434ff", facecolor="none", edgecolor="#3434ff",
                linewidth=1.0, legend=False, zorder=6)

# inner frame
ax.add_patch(Rectangle((inner_left, inner_bottom), inner_right - inner_left,
                       inner_top - inner_bottom, fill=False, edgecolor="#111111",
                       linewidth=1.5, zorder=7))

# outer frame / axes
for sp in ax.spines.values():
    sp.set_visible(True)
    sp.set_color("#111111")
    sp.set_linewidth(1.5)

ax.xaxis.set_major_locator(FixedLocator(x_major_ticks))
ax.xaxis.set_minor_locator(FixedLocator(list(range(-5, 33))))
ax.yaxis.set_major_locator(FixedLocator(list(range(0, 23, 2))))
ax.yaxis.set_minor_locator(FixedLocator(list(range(1, 24, 2))))
ax.yaxis.set_major_formatter(NullFormatter())
ax.tick_params(axis="x", which="major", direction="out", length=8.5, width=1.1,
               color="#111111", pad=1.5, bottom=True, top=False)
ax.tick_params(axis="x", which="minor", direction="out", length=5, width=1.1,
               color="#111111", bottom=True, top=False)
ax.tick_params(axis="y", which="major", direction="out", length=8, width=1.1,
               color="#111111", left=True, right=False)
ax.tick_params(axis="y", which="minor", direction="out", length=4.3, width=1.1,
               color="#111111", left=True, right=False)
ax.set_xticklabels([str(v) for v in x_major_ticks], fontfamily="Liberation Serif",
                   fontweight="bold", fontsize=17, color="#111111")
ax.set_xlabel("")
ax.set_ylabel("")

fig.text(fx(790), fy(1115), "Delta_Time", ha="center", va="center",
         fontsize=12, color="#111111", family=["Liberation Sans", "DejaVu Sans"])

# top window border line
fig.add_artist(Line2D([0, 1], [fy(1.5), fy(1.5)], transform=fig.transFigure,
                      color="#b4b4b4", linewidth=2.2))

# legend (manual, as in the original)
leg_font = dict(fontsize=29.5, fontweight="bold", family=["Liberation Sans", "DejaVu Sans"])
fig.text(fx(733), fy(195), "x", color="#ff0000", ha="left", va="baseline", **leg_font)
fig.text(fx(778), fy(195), legend_labels[0], color="#ff0000", ha="left", va="baseline", **leg_font)
fig.text(fx(788), fy(245), legend_labels[1], color="#33cc33", ha="left", va="baseline", **leg_font)
fig.text(fx(780), fy(298), legend_labels[2], color="#ff9933", ha="left", va="baseline", **leg_font)
fig.text(fx(786), fy(350), legend_labels[3], color="#333399", ha="left", va="baseline", **leg_font)

fig.add_artist(Line2D([fx(740)], [fy(230)], transform=fig.transFigure, marker="s",
                      markersize=6.5, markerfacecolor="none", markeredgecolor="#33cc33",
                      markeredgewidth=1.2, linestyle="none"))
fig.add_artist(Line2D([fx(743)], [fy(289)], transform=fig.transFigure, marker="^",
                      markersize=11, markerfacecolor="none", markeredgecolor="#ff9933",
                      markeredgewidth=1.0, linestyle="none"))
fig.add_artist(Line2D([fx(745)], [fy(340)], transform=fig.transFigure, marker="D",
                      markersize=9.5, markerfacecolor="none", markeredgecolor="#333399",
                      markeredgewidth=1.2, linestyle="none"))

fig.savefig("out.png", dpi=100, facecolor="white")
